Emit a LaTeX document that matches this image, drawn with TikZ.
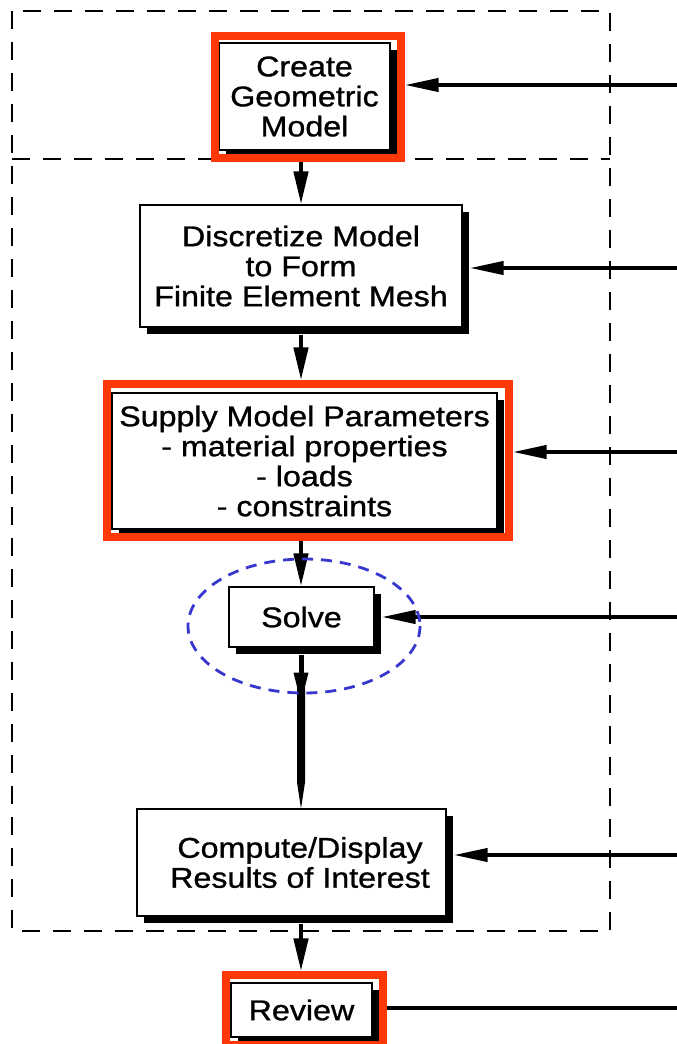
\documentclass[tikz,border=0pt]{standalone}
\usepackage{fontspec}
\setmainfont{Liberation Sans}[FakeStretch=1.13, FakeBold=1]
\usetikzlibrary{arrows.meta,shadows,calc,fit}
\definecolor{frameRed}{RGB}{255,56,8}
\definecolor{loopBlue}{RGB}{55,55,205}

\begin{document}
\begin{tikzpicture}[x=1pt,y=-1pt,
  stepbox/.style={draw=black, line width=1.2pt, fill=white, align=center, inner sep=0pt,
    font=\fontsize{28.5}{30}\selectfont,
    drop shadow={shadow xshift=7pt, shadow yshift=-7pt, opacity=1, fill=black}},
  redframe/.style={draw=frameRed, line width=8pt, inner sep=0pt},
  flow/.style={line width=4.5pt, -{Triangle[length=33pt,width=14pt]}},
  feed/.style={line width=4pt, -{Triangle[length=34pt,width=13pt]}},
  boundary/.style={line width=1.5pt, dash pattern=on 18pt off 13pt},
  focus/.style={draw=loopBlue, line width=2.8pt, dash pattern=on 11pt off 8pt},
]
\fill[white] (0,0) rectangle (677,1044);
\useasboundingbox (0,0) rectangle (677,1044);

% dashed system boundary
\draw[boundary] (12,11) rectangle (610,931);
\draw[boundary] (12,159) -- (610,159);

% process steps
\node[stepbox, minimum width=171pt, minimum height=107pt] (create) at (304.5,96.5)
  {Create\\Geometric\\Model};
\node[redframe, fit={([shift={(-3,-6)}]create.north west) ([shift={(10,7)}]create.south east)}] (cframe) {};

\node[stepbox, minimum width=322pt, minimum height=122pt] (disc) at (301,266)
  {Discretize Model\\to Form\\Finite Element Mesh};

\node[stepbox, minimum width=385pt, minimum height=136pt] (supply) at (304.5,461)
  {Supply Model Parameters\\- material properties\\- loads\\- constraints};
\node[redframe, fit={([shift={(-4,-8)}]supply.north west) ([shift={(11,7)}]supply.south east)}] (sframe) {};

\node[stepbox, minimum width=145pt, minimum height=60pt] (solve) at (301.5,617) {Solve};

\node[stepbox, minimum width=309pt, minimum height=107pt] (compute) at (291.5,862.5)
  {\hspace*{17pt}Compute/Display\\\hspace*{17pt}Results of Interest};

\node[stepbox, minimum width=141pt, minimum height=54pt] (review) at (301.5,1010) {Review};
\node[redframe, fit={([shift={(-4,-7)}]review.north west) ([shift={(10,7)}]review.south east)}] (rframe) {};

% main flow
\coordinate (axis) at (301,0);
\draw[flow] (axis |- cframe.south) -- (axis |- disc.north);
\draw[flow] ($(axis |- disc.south)+(0,7)$) -- (axis |- sframe.north);
\draw[flow] (axis |- sframe.south) -- (axis |- solve.north);
% long tapering arrow from the solver down to the results
\coordinate (tipC) at (axis |- compute.north);
\coordinate (baseC) at ($(axis |- solve.south)+(0,25)$);
\draw[line width=5pt] ($(axis |- solve.south)+(0,7)$) -- (baseC);
\fill ($(baseC)+(-7.5,0)$) -- ($(baseC)+(7.5,0)$) -- ($(baseC)+(4,14)$)
  -- ($(tipC)+(4,-26)$) -- (tipC) -- ($(tipC)+(-4,-26)$) -- ($(baseC)+(-4,14)$) -- cycle;
\draw[flow] ($(axis |- compute.south)+(0,7)$) -- (axis |- rframe.north);

% inputs from the right
\coordinate (in1) at (677,85);
\coordinate (in2) at (677,268);
\coordinate (in3) at (677,452);
\coordinate (in4) at (677,617);
\coordinate (in5) at (677,855);
\coordinate (out) at (677,1008);
\draw[feed] (in1) -- (in1 -| cframe.east);
\draw[feed] (in2) -- ($(in2 -| disc.east)+(7,0)$);
\draw[feed] (in3) -- (in3 -| sframe.east);
\draw[feed] (in4) -- ($(in4 -| solve.east)+(7,0)$);
\draw[feed] (in5) -- ($(in5 -| compute.east)+(7,0)$);
\draw[line width=4pt] (rframe.east |- out) -- (out);

% highlight around the solver
\draw[focus] (304,626) ellipse [x radius=116, y radius=67];
\end{tikzpicture}
\end{document}
